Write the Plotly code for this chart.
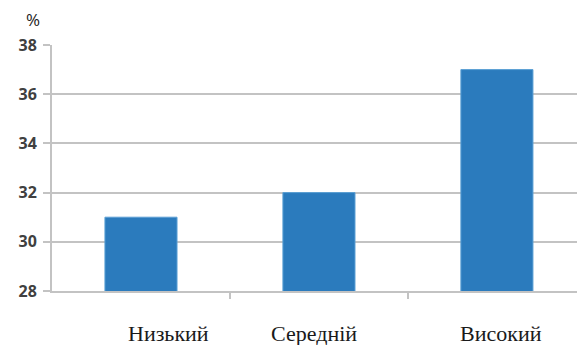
import plotly.graph_objects as go

categories = ["Низький", "Середній", "Високий"]
values = [31, 32, 37]
y_ticks = [28, 30, 32, 34, 36, 38]
label_shift = [28, -5, 4]

grid = "#c3c3c3"

fig = go.Figure()
fig.add_trace(go.Bar(
    x=list(range(len(categories))),
    y=values,
    width=0.405,
    marker=dict(color="#2b7bbd", line=dict(color="#5a9fd4", width=1)),
    hoverinfo="skip",
))

# category boundary ticks on the bottom axis
fig.update_xaxes(
    range=[-0.5, 2.45],
    showticklabels=False,
    tickvals=[0.5, 1.5],
    ticks="outside", ticklen=6, tickcolor=grid, tickwidth=1.5,
    showgrid=False, zeroline=False,
    showline=True, linecolor=grid, linewidth=2,
)
fig.update_yaxes(
    range=[28, 38],
    tickvals=y_ticks,
    ticktext=[str(v) for v in y_ticks],
    ticks="outside", ticklen=7, tickcolor=grid, tickwidth=2,
    showgrid=True, gridcolor=grid, gridwidth=2,
    zeroline=False,
    showline=True, linecolor=grid, linewidth=2,
    tickfont=dict(family="Open Sans", size=16, color="#404040", weight="bold"),
    ticklabelstandoff=3,
)

for i, (name, dx) in enumerate(zip(categories, label_shift)):
    fig.add_annotation(
        x=i, y=0, xref="x", yref="paper",
        yanchor="top", yshift=-28, xshift=dx,
        text=name, showarrow=False,
        font=dict(family="Liberation Serif", size=22, color="#1a1a1a"),
    )

fig.add_annotation(
    x=0, y=1, xref="paper", yref="paper",
    xanchor="right", yanchor="bottom", xshift=-10, yshift=12,
    text="%", showarrow=False,
    font=dict(family="Open Sans", size=17, color="#222222"),
)

fig.update_layout(
    width=577, height=345,
    margin=dict(l=52, r=0, t=45, b=54),
    paper_bgcolor="white", plot_bgcolor="white",
    showlegend=False,
    bargap=0.5,
)

fig.write_html("out.html")
